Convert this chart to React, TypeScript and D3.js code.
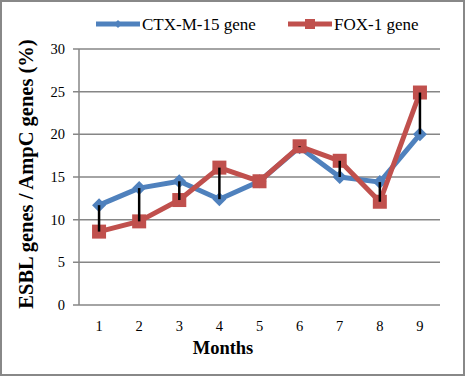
import React from "react";
import * as d3 from "d3";

const months = ["1", "2", "3", "4", "5", "6", "7", "8", "9"];
const ctxValues = [11.7, 13.7, 14.5, 12.4, 14.5, 18.5, 15.0, 14.4, 20.0];
const foxValues = [8.6, 9.8, 12.3, 16.1, 14.5, 18.6, 16.9, 12.1, 24.9];
const yTicks = [0, 5, 10, 15, 20, 25, 30];
const seriesNames = ["CTX-M-15 gene", "FOX-1 gene"];

const W = 465;
const H = 376;
const BLUE = "#4F81BD";
const RED = "#C0504D";
const GRID = "#868686";
const FONT = "Liberation Serif";

export default function App() {
  const left = 79;
  const right = 440;
  const top = 49;
  const bottom = 305;
  const x = d3.scaleBand<string>().domain(months).range([left, right]);
  const y = d3.scaleLinear().domain([0, 30]).range([bottom, top]);
  const cx = (m: string) => (x(m) as number) + x.bandwidth() / 2;

  const line = d3
    .line<number>()
    .x((_, i) => cx(months[i]))
    .y((d) => y(d));

  const diamond = (px: number, py: number, r: number) =>
    `M${px},${py - r}L${px + r},${py}L${px},${py + r}L${px - r},${py}Z`;

  const ts = { fontFamily: FONT };

  return (
    <svg
      width={W}
      height={H}
      style={{ position: "absolute", left: 0, top: 0, fontFamily: FONT }}
    >
      <rect x={0} y={0} width={W} height={H} fill="#fff" />
      <rect x={1} y={1} width={W - 2} height={H - 2} fill="none" stroke="#888" strokeWidth={2} />

      {yTicks.map((t) => (
        <g key={t}>
          <line x1={left - 6} x2={right} y1={y(t)} y2={y(t)} stroke={GRID} strokeWidth={1.5} />
          <text x={left - 14} y={y(t)} dy="0.35em" textAnchor="end" fontSize={14.5} fill="#000" style={ts}>
            {t}
          </text>
        </g>
      ))}
      <line x1={left} x2={left} y1={top} y2={bottom} stroke={GRID} strokeWidth={1.5} />

      {months.map((m) => (
        <text key={m} x={cx(m)} y={bottom + 26} textAnchor="middle" fontSize={14.5} fill="#000" style={ts}>
          {m}
        </text>
      ))}

      <text x={223} y={354} textAnchor="middle" fontSize={18.5} fontWeight="bold" style={ts}>
        Months
      </text>
      <text
        transform={`translate(33, 174) rotate(-90)`}
        textAnchor="middle"
        fontSize={20.5}
        fontWeight="bold"
        style={ts}
      >
        ESBL genes / AmpC genes (%)
      </text>

      <path d={line(ctxValues) || ""} fill="none" stroke={BLUE} strokeWidth={5} strokeLinejoin="round" />
      {ctxValues.map((v, i) => (
        <path key={"c" + i} d={diamond(cx(months[i]), y(v), 7)} fill={BLUE} />
      ))}

      <path d={line(foxValues) || ""} fill="none" stroke={RED} strokeWidth={5} strokeLinejoin="round" />
      {foxValues.map((v, i) => (
        <rect key={"f" + i} x={cx(months[i]) - 7} y={y(v) - 7} width={14} height={14} fill={RED} />
      ))}

      {/* high-low lines */}
      {months.map((m, i) => (
        <line
          key={"hl" + m}
          x1={cx(m)}
          x2={cx(m)}
          y1={y(Math.max(ctxValues[i], foxValues[i]))}
          y2={y(Math.min(ctxValues[i], foxValues[i]))}
          stroke="#000"
          strokeWidth={2.5}
        />
      ))}

      {/* legend */}
      <line x1={96} x2={140} y1={24} y2={24} stroke={BLUE} strokeWidth={5} />
      <path d={diamond(118, 24, 4)} fill={BLUE} />
      <text x={142} y={24} dy="0.35em" fontSize={17} style={ts}>
        {seriesNames[0]}
      </text>
      <line x1={288} x2={332} y1={24} y2={24} stroke={RED} strokeWidth={5} />
      <rect x={305} y={19} width={10} height={10} fill={RED} />
      <text x={334} y={24} dy="0.35em" fontSize={17} style={ts}>
        {seriesNames[1]}
      </text>
    </svg>
  );
}
